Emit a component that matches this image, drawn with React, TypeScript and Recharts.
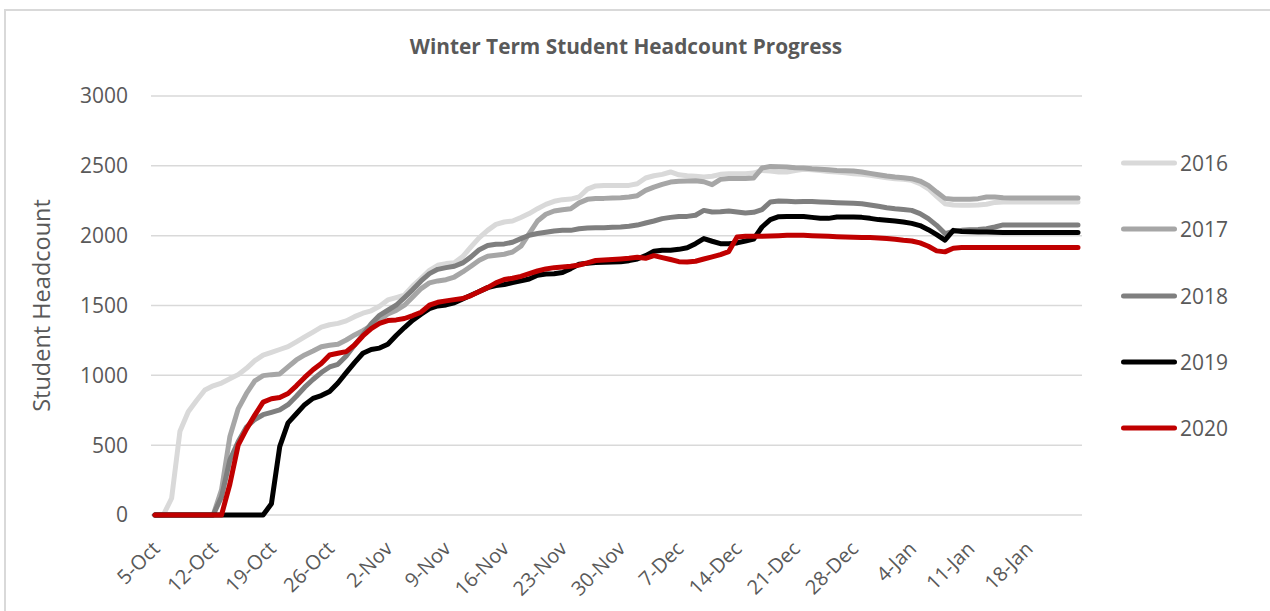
import { LineChart, Line, XAxis, YAxis, CartesianGrid, Legend } from "recharts";

// one row per week, 5-Oct .. 24-Jan
const dates = [
  "5-Oct", "6-Oct", "7-Oct", "8-Oct", "9-Oct", "10-Oct", "11-Oct",
  "12-Oct", "13-Oct", "14-Oct", "15-Oct", "16-Oct", "17-Oct", "18-Oct",
  "19-Oct", "20-Oct", "21-Oct", "22-Oct", "23-Oct", "24-Oct", "25-Oct",
  "26-Oct", "27-Oct", "28-Oct", "29-Oct", "30-Oct", "31-Oct", "1-Nov",
  "2-Nov", "3-Nov", "4-Nov", "5-Nov", "6-Nov", "7-Nov", "8-Nov",
  "9-Nov", "10-Nov", "11-Nov", "12-Nov", "13-Nov", "14-Nov", "15-Nov",
  "16-Nov", "17-Nov", "18-Nov", "19-Nov", "20-Nov", "21-Nov", "22-Nov",
  "23-Nov", "24-Nov", "25-Nov", "26-Nov", "27-Nov", "28-Nov", "29-Nov",
  "30-Nov", "1-Dec", "2-Dec", "3-Dec", "4-Dec", "5-Dec", "6-Dec",
  "7-Dec", "8-Dec", "9-Dec", "10-Dec", "11-Dec", "12-Dec", "13-Dec",
  "14-Dec", "15-Dec", "16-Dec", "17-Dec", "18-Dec", "19-Dec", "20-Dec",
  "21-Dec", "22-Dec", "23-Dec", "24-Dec", "25-Dec", "26-Dec", "27-Dec",
  "28-Dec", "29-Dec", "30-Dec", "31-Dec", "1-Jan", "2-Jan", "3-Jan",
  "4-Jan", "5-Jan", "6-Jan", "7-Jan", "8-Jan", "9-Jan", "10-Jan",
  "11-Jan", "12-Jan", "13-Jan", "14-Jan", "15-Jan", "16-Jan", "17-Jan",
  "18-Jan", "19-Jan", "20-Jan", "21-Jan", "22-Jan", "23-Jan", "24-Jan",
];

const hc2016 = [
  0, 0, 120, 600, 740, 820, 895,
  925, 945, 975, 1005, 1050, 1105, 1145,
  1165, 1185, 1205, 1240, 1275, 1310, 1345,
  1362, 1372, 1390, 1420, 1445, 1462, 1495,
  1540, 1557, 1575, 1640, 1695, 1752, 1788,
  1800, 1806, 1850, 1920, 1986, 2038, 2081,
  2098, 2105, 2130, 2158, 2193, 2224, 2246,
  2258, 2262, 2277, 2333, 2356, 2360, 2360,
  2360, 2360, 2372, 2413, 2429, 2439, 2456,
  2436, 2429, 2425, 2420, 2425, 2439, 2444,
  2444, 2444, 2448, 2467, 2463, 2456, 2456,
  2467, 2475, 2472, 2467, 2460, 2456, 2451,
  2444, 2439, 2432, 2424, 2415, 2408, 2403,
  2396, 2372, 2336, 2281, 2229, 2220, 2218,
  2218, 2220, 2225, 2238, 2241, 2241, 2241,
  2241, 2241, 2241, 2241, 2241, 2241, 2241,
];

const hc2017 = [
  0, 0, 0, 0, 0, 0, 0,
  0, 180, 560, 760, 870, 960, 998,
  1005, 1010, 1060, 1110, 1146, 1174, 1205,
  1215, 1222, 1253, 1289, 1320, 1355, 1390,
  1440, 1465, 1502, 1561, 1621, 1662, 1676,
  1685, 1704, 1740, 1781, 1824, 1852, 1860,
  1867, 1883, 1924, 2014, 2105, 2153, 2177,
  2186, 2193, 2235, 2260, 2266, 2267, 2270,
  2272, 2277, 2286, 2324, 2348, 2367, 2384,
  2389, 2391, 2393, 2386, 2365, 2403, 2410,
  2410, 2410, 2413, 2484, 2496, 2494, 2491,
  2486, 2484, 2479, 2476, 2472, 2467, 2465,
  2463, 2456, 2446, 2436, 2427, 2420, 2415,
  2408, 2391, 2360, 2312, 2267, 2260, 2260,
  2260, 2265, 2277, 2277, 2272, 2270, 2270,
  2270, 2270, 2270, 2270, 2270, 2270, 2270,
];

const hc2018 = [
  0, 0, 0, 0, 0, 0, 0,
  0, 130, 393, 524, 630, 684, 718,
  735, 752, 790, 850, 915, 970, 1020,
  1060, 1079, 1139, 1217, 1289, 1370, 1430,
  1466, 1502, 1557, 1614, 1676, 1728, 1759,
  1771, 1781, 1805, 1848, 1900, 1929, 1938,
  1941, 1953, 1979, 2003, 2015, 2024, 2034,
  2038, 2038, 2050, 2055, 2057, 2057, 2060,
  2062, 2067, 2076, 2091, 2105, 2122, 2131,
  2138, 2138, 2146, 2181, 2170, 2172, 2177,
  2170, 2162, 2167, 2186, 2241, 2248, 2246,
  2243, 2245, 2244, 2241, 2239, 2236, 2234,
  2232, 2229, 2220, 2210, 2200, 2193, 2188,
  2181, 2158, 2122, 2074, 2015, 2030, 2038,
  2042, 2045, 2050, 2062, 2077, 2077, 2077,
  2077, 2077, 2077, 2077, 2077, 2077, 2077,
];

const hc2019 = [
  0, 0, 0, 0, 0, 0, 0,
  0, 0, 0, 0, 0, 0, 0,
  80, 490, 660, 725, 790, 835, 855,
  885, 945, 1019, 1091, 1158, 1185, 1195,
  1223, 1285, 1342, 1395, 1438, 1478, 1497,
  1504, 1519, 1547, 1573, 1600, 1628, 1643,
  1650, 1664, 1676, 1690, 1716, 1726, 1728,
  1736, 1764, 1795, 1802, 1807, 1809, 1812,
  1814, 1821, 1833, 1857, 1888, 1895, 1895,
  1902, 1914, 1943, 1979, 1960, 1943, 1943,
  1948, 1962, 1976, 2062, 2115, 2136, 2138,
  2138, 2138, 2131, 2124, 2124, 2134, 2134,
  2134, 2131, 2124, 2115, 2110, 2105, 2098,
  2088, 2072, 2043, 2007, 1968, 2038, 2030,
  2028, 2027, 2026, 2024, 2022, 2022, 2022,
  2022, 2022, 2022, 2022, 2022, 2022, 2022,
];

const hc2020 = [
  0, 0, 0, 0, 0, 0, 0,
  0, 0, 220, 500, 615, 715, 808,
  832, 841, 870, 925, 985, 1040, 1085,
  1146, 1158, 1170, 1217, 1282, 1335, 1372,
  1392, 1397, 1407, 1428, 1452, 1502, 1523,
  1533, 1542, 1550, 1571, 1600, 1628, 1662,
  1686, 1695, 1709, 1728, 1747, 1762, 1771,
  1776, 1781, 1790, 1805, 1822, 1826, 1829,
  1833, 1838, 1845, 1838, 1857, 1843, 1829,
  1814, 1812, 1817, 1833, 1848, 1864, 1886,
  1991, 1995, 1995, 1995, 1998, 2000, 2003,
  2003, 2003, 2000, 1998, 1995, 1993, 1991,
  1988, 1986, 1986, 1984, 1979, 1974, 1967,
  1962, 1948, 1924, 1891, 1884, 1910, 1915,
  1915, 1915, 1915, 1915, 1915, 1915, 1915,
  1915, 1915, 1915, 1915, 1915, 1915, 1915,
];

const years = ["2016", "2017", "2018", "2019", "2020"];
const colors = ["#d9d9d9", "#a6a6a6", "#7f7f7f", "#000000", "#c00000"];
const yTicks = [0, 500, 1000, 1500, 2000, 2500, 3000];

const seriesValues = [hc2016, hc2017, hc2018, hc2019, hc2020];

const data = dates.map((date, i) => {
  const row: Record<string, string | number> = { date };
  years.forEach((yr, k) => {
    row[yr] = seriesValues[k][i];
  });
  return row;
});

const FONT = '"Open Sans", "DejaVu Sans", sans-serif';
const TEXT = "#595959";

const DateTick = ({ x, y, payload }: { x?: number; y?: number; payload?: { value: string } }) => {
  const ax = (x ?? 0) + 6;
  const ay = (y ?? 0) + 35;
  return (
    <text
      x={ax}
      y={ay}
      transform={`rotate(-45, ${ax}, ${ay})`}
      textAnchor="end"
      fill={TEXT}
      fontSize={20}
      fontFamily={FONT}
    >
      {payload?.value}
    </text>
  );
};

const LegendContent = ({ payload }: { payload?: { value: string; color: string }[] }) => (
  <div style={{ fontFamily: FONT }}>
    {(payload || []).map((p) => (
      <div key={p.value} style={{ height: 66.3, display: "flex", alignItems: "center" }}>
        <svg width={60} height={10} style={{ display: "block" }}>
          <line x1={4.5} y1={5} x2={55.5} y2={5} stroke={p.color} strokeWidth={5} strokeLinecap="round" />
        </svg>
        <span style={{ fontSize: 21, color: TEXT, marginLeft: 1, lineHeight: "24px" }}>{p.value}</span>
      </div>
    ))}
  </div>
);

export default function App() {
  return (
    <div style={{ position: "absolute", left: 0, top: 0, width: 1270, height: 611, overflow: "hidden", background: "#fff" }}>
      <div
        style={{
          position: "absolute",
          left: 4,
          top: 9,
          width: 1300,
          height: 700,
          border: "2px solid #d9d9d9",
        }}
      />
      <div
        style={{
          position: "absolute",
          left: 326,
          top: 32,
          width: 600,
          textAlign: "center",
          fontFamily: FONT,
          fontWeight: 700,
          fontSize: 20.8,
          lineHeight: "28px",
          color: TEXT,
        }}
      >
        Winter Term Student Headcount Progress
      </div>
      <div style={{ position: "absolute", left: 0, top: 0 }}>
        <LineChart width={1270} height={611} data={data} margin={{ top: 96, right: 188, bottom: 0, left: 0 }}>
          <CartesianGrid vertical={false} stroke="#d9d9d9" strokeWidth={1.5} />
          <XAxis
            dataKey="date"
            interval={6}
            tick={<DateTick />}
            tickLine={false}
            axisLine={false}
            tickSize={0}
            tickMargin={0}
            height={96}
            padding={{ left: 4, right: 4 }}
          />
          <YAxis
            domain={[0, 3000]}
            ticks={yTicks}
            width={151}
            tickLine={false}
            axisLine={false}
            tickSize={0}
            tickMargin={23}
            tick={{ fill: TEXT, fontSize: 21, fontFamily: FONT }}
            label={{
              value: "Student Headcount",
              angle: -90,
              position: "insideLeft",
              offset: 42,
              style: { textAnchor: "middle", fill: TEXT, fontSize: 23.5, fontFamily: FONT },
            }}
          />
          <Legend
            layout="vertical"
            align="center"
            verticalAlign="middle"
            wrapperStyle={{ left: 1119, top: 130, width: 150 }}
            content={<LegendContent />}
          />
          {years.map((yr, k) => (
            <Line
              key={yr}
              type="linear"
              dataKey={yr}
              name={yr}
              stroke={colors[k]}
              strokeWidth={5}
              strokeLinecap="round"
              strokeLinejoin="round"
              dot={false}
              activeDot={false}
              isAnimationActive={false}
            />
          ))}
        </LineChart>
      </div>
    </div>
  );
}
